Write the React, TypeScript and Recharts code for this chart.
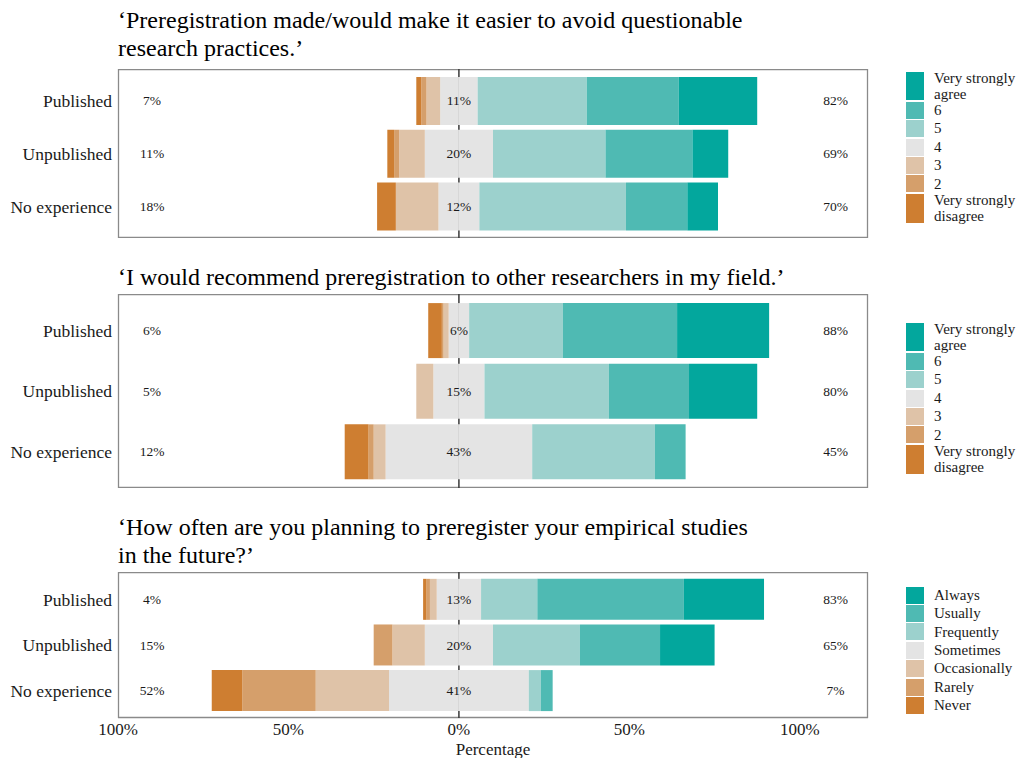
import {
  Bar,
  CartesianGrid,
  ComposedChart,
  ReferenceDot,
  XAxis,
  YAxis,
} from "recharts";

const SERIF = "'Liberation Serif', 'Times New Roman', serif";
const INK = "#1a1a1a";

const groups = ["Published", "Unpublished", "No experience"];

// level order: 1 (lowest) .. 7 (highest)
const agreeLevels = ["Very strongly\ndisagree", "2", "3", "4", "5", "6", "Very strongly\nagree"];
const frequencyLevels = ["Never", "Rarely", "Occasionally", "Sometimes", "Frequently", "Usually", "Always"];
const levelColors = ["#ce7e31", "#d59f6b", "#dfc3a8", "#e4e4e4", "#9cd1cd", "#4fbab3", "#03a79d"];

// percentages per group, levels 1..7
const qrpPublished = [1.5, 1.5, 4, 11, 32, 27, 23];
const qrpUnpublished = [2, 1.5, 7.5, 20, 33, 25.5, 10.5];
const qrpNoExperience = [5.5, 0, 12.5, 12, 43, 18, 9];

const recommendPublished = [4, 0.5, 1.5, 6, 27.5, 33.5, 27];
const recommendUnpublished = [0, 0, 5, 15, 36.5, 23.5, 20];
const recommendNoExperience = [7, 1.5, 3.5, 43, 36, 9, 0];

const plansPublished = [1, 1, 2, 13, 16.5, 43, 23.5];
const plansUnpublished = [0, 5.5, 9.5, 20, 25.5, 23.5, 16];
const plansNoExperience = [9, 21.5, 21.5, 41, 3.5, 3.5, 0];

const xDomain = [-100, 120];
const xTicks = [-100, -50, 0, 50, 100];

function buildRows(series: number[][]) {
  return series.map((v, i) => ({
    name: groups[i],
    nLo: -v[3] / 2,
    l3: -v[2],
    l2: -v[1],
    l1: -v[0],
    nHi: v[3] / 2,
    l5: v[4],
    l6: v[5],
    l7: v[6],
    low: Math.round(v[0] + v[1] + v[2]),
    mid: Math.round(v[3]),
    high: Math.round(v[4] + v[5] + v[6]),
  }));
}

// stacking order: outwards from zero on each side
const stackKeys = [
  { key: "nLo", level: 3 },
  { key: "l3", level: 2 },
  { key: "l2", level: 1 },
  { key: "l1", level: 0 },
  { key: "nHi", level: 3 },
  { key: "l5", level: 4 },
  { key: "l6", level: 5 },
  { key: "l7", level: 6 },
];

interface PanelProps {
  title: string;
  rows: ReturnType<typeof buildRows>;
  levels: string[];
  titleTop: number;
  boxTop: number;
  boxHeight: number;
  legendTop: number;
  showAxis?: boolean;
}

function Legend({ levels, top }: { levels: string[]; top: number }) {
  const items = levels.map((l, i) => ({ label: l, color: levelColors[i] })).reverse();
  return (
    <div style={{ position: "absolute", left: 906, top, fontFamily: SERIF, fontSize: 15, color: INK }}>
      {items.map((it) => {
        const lines = it.label.split("\n").length;
        const h = lines > 1 ? 30.2 : 18.4;
        return (
          <div key={it.label} style={{ display: "flex", alignItems: "center", height: h }}>
            <span style={{ width: 18, height: h - 1.4, background: it.color, display: "inline-block" }} />
            <span style={{ marginLeft: 10, lineHeight: "16.6px", whiteSpace: "pre-line" }}>{it.label}</span>
          </div>
        );
      })}
    </div>
  );
}

const zeroLine = ({ xAxis, offset }: any) => {
  if (xAxis && typeof xAxis.scale === "function") return [xAxis.scale(0)];
  return [offset.left + (offset.width * (0 - xDomain[0])) / (xDomain[1] - xDomain[0])];
};

function Panel({ title, rows, levels, titleTop, boxTop, boxHeight, legendTop, showAxis = false }: PanelProps) {
  const axisH = showAxis ? 40 : 0;
  const pad = (boxHeight / 3.2) * 0.1;
  const labelStyle = { position: "center" as const, fontSize: 13.5, fill: INK, fontFamily: SERIF };
  return (
    <>
      <div
        style={{
          position: "absolute",
          left: 118,
          top: titleTop,
          width: 700,
          fontFamily: SERIF,
          fontSize: 24,
          lineHeight: "28px",
          color: "#000",
          whiteSpace: "pre-line",
        }}
      >
        {title}
      </div>
      <div style={{ position: "absolute", left: 0, top: boxTop, width: 900, height: boxHeight + axisH }}>
        <ComposedChart
          width={900}
          height={boxHeight + axisH}
          data={rows}
          layout="vertical"
          stackOffset="sign"
          barCategoryGap="5%"
          margin={{ top: 0, right: 32, bottom: 0, left: 0 }}
        >
          {/* panel border */}
          <CartesianGrid
            stroke="#8a8a8a"
            strokeWidth={1.3}
            horizontalCoordinatesGenerator={({ offset }: any) => [offset.top + 0.5, offset.top + offset.height - 0.5]}
            verticalCoordinatesGenerator={({ offset }: any) => [offset.left + 0.5, offset.left + offset.width - 0.5]}
          />
          {/* zero line, behind the bars */}
          <CartesianGrid stroke="#3a3a3a" strokeWidth={1.5} horizontal={false} verticalCoordinatesGenerator={zeroLine} />
          <XAxis
            type="number"
            domain={xDomain}
            allowDataOverflow
            hide={!showAxis}
            ticks={xTicks}
            interval={0}
            tickFormatter={(v) => `${Math.abs(v)}%`}
            axisLine={false}
            tickLine={false}
            tickSize={0}
            tickMargin={5}
            height={axisH}
            tick={{ fontSize: 17, fill: INK, fontFamily: SERIF }}
            label={{ value: "Percentage", position: "insideBottom", offset: 3.5, fontSize: 17, fill: INK, fontFamily: SERIF }}
          />
          <YAxis
            type="category"
            dataKey="name"
            width={118}
            axisLine={false}
            tickLine={false}
            tickSize={0}
            tickMargin={6}
            padding={{ top: pad, bottom: pad }}
            tick={{ fontSize: 17.5, fill: INK, fontFamily: SERIF }}
          />
          {stackKeys.map((s) => (
            <Bar key={s.key} dataKey={s.key} stackId="a" fill={levelColors[s.level]} isAnimationActive={false} />
          ))}
          {rows.map((r) => (
            <ReferenceDot key={r.name + "lo"} x={-90} y={r.name} r={0} fill="none" stroke="none"
              label={{ value: `${r.low}%`, ...labelStyle }} />
          ))}
          {rows.map((r) => (
            <ReferenceDot key={r.name + "mid"} x={0} y={r.name} r={0} fill="none" stroke="none"
              label={{ value: `${r.mid}%`, ...labelStyle }} />
          ))}
          {rows.map((r) => (
            <ReferenceDot key={r.name + "hi"} x={110.5} y={r.name} r={0} fill="none" stroke="none"
              label={{ value: `${r.high}%`, ...labelStyle }} />
          ))}
        </ComposedChart>
      </div>
      <Legend levels={levels} top={legendTop} />
    </>
  );
}

export default function App() {
  return (
    <div style={{ position: "absolute", left: 0, top: 0, width: 1018, height: 758, background: "#fff", overflow: "hidden" }}>
      <Panel
        title={"‘Preregistration made/would make it easier to avoid questionable\nresearch practices.’"}
        rows={buildRows([qrpPublished, qrpUnpublished, qrpNoExperience])}
        levels={agreeLevels}
        titleTop={6}
        boxTop={69}
        boxHeight={169}
        legendTop={71}
      />
      <Panel
        title={"‘I would recommend preregistration to other researchers in my field.’"}
        rows={buildRows([recommendPublished, recommendUnpublished, recommendNoExperience])}
        levels={agreeLevels}
        titleTop={263}
        boxTop={294}
        boxHeight={194}
        legendTop={322}
      />
      <Panel
        title={"‘How often are you planning to preregister your empirical studies\nin the future?’"}
        rows={buildRows([plansPublished, plansUnpublished, plansNoExperience])}
        levels={frequencyLevels}
        titleTop={513}
        boxTop={572}
        boxHeight={146}
        legendTop={586}
        showAxis
      />
    </div>
  );
}
